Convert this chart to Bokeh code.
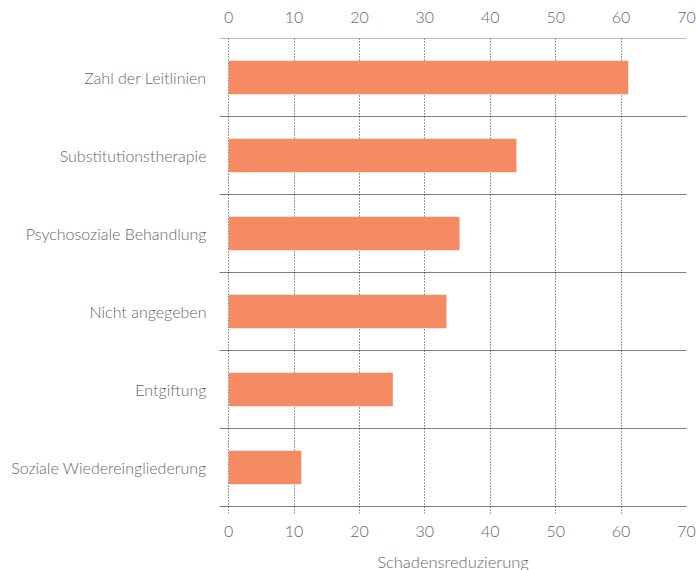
from bokeh.plotting import figure
from bokeh.models import Range1d, FixedTicker, LinearAxis
from bokeh.embed import file_html
from bokeh.resources import INLINE

categories = ["Zahl der Leitlinien", "Substitutionstherapie", "Psychosoziale Behandlung",
              "Nicht angegeben", "Entgiftung", "Soziale Wiedereingliederung"]
values = [61.1, 44.0, 35.3, 33.3, 25.1, 11.1]
x_ticks = [0, 10, 20, 30, 40, 50, 60, 70]

n = len(categories)
ypos = [n - 1 - i for i in range(n)]
FONT = "Lato Light"
TXT = "#666666"

p = figure(frame_width=467, frame_height=475, output_backend="svg", toolbar_location=None,
           x_range=Range1d(-1.4, 70), y_range=Range1d(n - 0.5 - 475 / 78, n - 0.5),
           x_axis_location=None, y_axis_location=None,
           min_border_left=219, min_border_right=10, min_border_top=38, min_border_bottom=50)
p.outline_line_color = None
p.background_fill_color = "white"
p.border_fill_color = "white"

p.hbar(y=ypos, right=values, left=0, height=0.43, color="#F58B62", line_color=None)

# separators between categories
bounds = [i - 0.5 for i in range(n + 1)]
p.segment(x0=[-1.4] * len(bounds), x1=[70] * len(bounds), y0=bounds, y1=bounds,
          line_color="#000000", line_width=1, line_dash="1 1")

def style_x(ax, standoff):
    ax.ticker = FixedTicker(ticks=x_ticks)
    ax.axis_line_color = None
    ax.major_tick_line_color = None
    ax.minor_tick_line_color = None
    ax.major_label_text_font = FONT
    ax.major_label_text_font_size = "16px"
    ax.major_label_text_color = TXT
    ax.major_label_standoff = standoff

top = LinearAxis()
style_x(top, 10)
p.add_layout(top, "above")

bottom = LinearAxis(axis_label="Schadensreduzierung")
style_x(bottom, 6)
bottom.axis_label_text_font = FONT
bottom.axis_label_text_font_size = "16.5px"
bottom.axis_label_text_font_style = "normal"
bottom.axis_label_text_color = TXT
bottom.axis_label_standoff = 12
p.add_layout(bottom, "below")

left = LinearAxis()
left.ticker = FixedTicker(ticks=ypos)
left.major_label_overrides = {y: c for y, c in zip(ypos, categories)}
left.axis_line_color = None
left.major_tick_line_color = None
left.minor_tick_line_color = None
left.major_label_text_font = FONT
left.major_label_text_font_size = "16px"
left.major_label_text_color = TXT
left.major_label_standoff = 7
p.add_layout(left, "left")

p.xgrid.ticker = FixedTicker(ticks=x_ticks)
p.xgrid.grid_line_color = "#333333"
p.xgrid.grid_line_dash = "1 2"
p.ygrid.grid_line_color = None

open("out.html", "w").write(file_html(p, INLINE))
